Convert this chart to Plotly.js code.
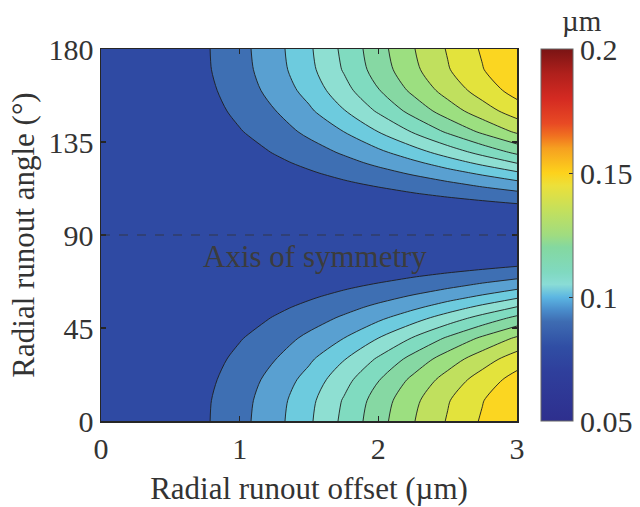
<!DOCTYPE html>
<html>
<head>
<meta charset="utf-8">
<script src="https://cdn.plot.ly/plotly-3.0.1.min.js"></script>
<style>html,body{margin:0;padding:0;background:#fff;}#chart{width:640px;height:507px;}</style>
</head>
<body>
<div id="chart"></div>
<script>
// Radial runout offset (µm)
const offsets = [0, 0.25, 0.5, 0.75, 1.0, 1.25, 1.5, 1.75, 2.0, 2.25, 2.5, 2.75, 3.0];
// Radial runout angle (°)
const angles = [0, 10, 20, 30, 40, 50, 55, 60, 65, 70, 75, 80, 90, 100, 105, 110, 115, 120, 125, 130, 140, 150, 160, 170, 180];
// Error (µm), one row per angle
const zAt0   = [0.0750,0.0750,0.0751,0.0791,0.0852,0.0922,0.1013,0.1117,0.1221,0.1320,0.1406,0.1484,0.1560];
const zAt10  = [0.0750,0.0750,0.0751,0.0789,0.0848,0.0916,0.1004,0.1106,0.1208,0.1306,0.1394,0.1471,0.1546];
const zAt20  = [0.0750,0.0750,0.0751,0.0780,0.0837,0.0899,0.0977,0.1073,0.1171,0.1267,0.1355,0.1433,0.1505];
const zAt30  = [0.0750,0.0750,0.0751,0.0767,0.0819,0.0872,0.0937,0.1020,0.1110,0.1200,0.1287,0.1366,0.1437];
const zAt40  = [0.0750,0.0750,0.0750,0.0752,0.0795,0.0841,0.0891,0.0950,0.1026,0.1106,0.1186,0.1264,0.1337];
const zAt50  = [0.0750,0.0750,0.0750,0.0751,0.0765,0.0804,0.0843,0.0884,0.0933,0.0992,0.1058,0.1124,0.1191];
const zAt55  = [0.0750,0.0750,0.0750,0.0750,0.0754,0.0783,0.0818,0.0853,0.0891,0.0935,0.0987,0.1045,0.1105];
const zAt60  = [0.0750,0.0750,0.0750,0.0750,0.0751,0.0761,0.0791,0.0822,0.0852,0.0884,0.0922,0.0964,0.1013];
const zAt65  = [0.0750,0.0750,0.0750,0.0750,0.0750,0.0751,0.0763,0.0789,0.0814,0.0840,0.0865,0.0895,0.0928];
const zAt70  = [0.0750,0.0750,0.0750,0.0750,0.0750,0.0750,0.0751,0.0753,0.0775,0.0796,0.0817,0.0837,0.0858];
const zAt75  = [0.0750,0.0750,0.0750,0.0750,0.0750,0.0750,0.0750,0.0750,0.0751,0.0752,0.0766,0.0782,0.0798];
const zAt80  = [0.0750,0.0750,0.0750,0.0750,0.0750,0.0750,0.0750,0.0750,0.0750,0.0750,0.0751,0.0751,0.0752];
const zAt90  = [0.0750,0.0750,0.0750,0.0750,0.0750,0.0750,0.0750,0.0750,0.0750,0.0750,0.0750,0.0750,0.0750];
const zAt100 = [0.0750,0.0750,0.0750,0.0750,0.0750,0.0750,0.0750,0.0750,0.0750,0.0750,0.0751,0.0751,0.0752];
const zAt105 = [0.0750,0.0750,0.0750,0.0750,0.0750,0.0750,0.0750,0.0750,0.0751,0.0752,0.0766,0.0782,0.0798];
const zAt110 = [0.0750,0.0750,0.0750,0.0750,0.0750,0.0750,0.0751,0.0753,0.0775,0.0796,0.0817,0.0837,0.0858];
const zAt115 = [0.0750,0.0750,0.0750,0.0750,0.0750,0.0751,0.0763,0.0789,0.0814,0.0840,0.0865,0.0895,0.0928];
const zAt120 = [0.0750,0.0750,0.0750,0.0750,0.0751,0.0761,0.0791,0.0822,0.0852,0.0884,0.0922,0.0964,0.1013];
const zAt125 = [0.0750,0.0750,0.0750,0.0750,0.0754,0.0783,0.0818,0.0853,0.0891,0.0935,0.0987,0.1045,0.1105];
const zAt130 = [0.0750,0.0750,0.0750,0.0751,0.0765,0.0804,0.0843,0.0884,0.0933,0.0992,0.1058,0.1124,0.1191];
const zAt140 = [0.0750,0.0750,0.0750,0.0752,0.0795,0.0841,0.0891,0.0950,0.1026,0.1106,0.1186,0.1264,0.1337];
const zAt150 = [0.0750,0.0750,0.0751,0.0767,0.0819,0.0872,0.0937,0.1020,0.1110,0.1200,0.1287,0.1366,0.1437];
const zAt160 = [0.0750,0.0750,0.0751,0.0780,0.0837,0.0899,0.0977,0.1073,0.1171,0.1267,0.1355,0.1433,0.1505];
const zAt170 = [0.0750,0.0750,0.0751,0.0789,0.0848,0.0916,0.1004,0.1106,0.1208,0.1306,0.1394,0.1471,0.1546];
const zAt180 = [0.0750,0.0750,0.0751,0.0791,0.0852,0.0922,0.1013,0.1117,0.1221,0.1320,0.1406,0.1484,0.1560];

const xTicks = [0, 1, 2, 3];
const yTicks = [0, 45, 90, 135, 180];
const cbTicks = [0.05, 0.1, 0.15, 0.2];
const cbTickText = ['0.05', '0.1', '0.15', '0.2'];
const symmetryAngle = 90;

const zGrid = [zAt0, zAt10, zAt20, zAt30, zAt40, zAt50, zAt55, zAt60, zAt65, zAt70, zAt75, zAt80, zAt90,
  zAt100, zAt105, zAt110, zAt115, zAt120, zAt125, zAt130, zAt140, zAt150, zAt160, zAt170, zAt180];

const FONT = 'Liberation Serif, Times New Roman, serif';
const TXT = '#333333';

const bandColors = ['#2f4aa3','#3e6fb3','#59a0d1','#6dcbde','#8edfd2','#80dbc0','#86d8a3','#9cdf80','#c0e05e','#e3e33c','#fbd621'];
const bandScale = bandColors.map((c, i) => [i / (bandColors.length - 1), c]);

const barScale = [
  [0.000, '#2e2f8e'], [0.133, '#2f3f9c'], [0.200, '#304ea4'], [0.267, '#3e6cb2'],
  [0.300, '#4a8ecc'], [0.333, '#5cb6e2'], [0.367, '#8adcd6'], [0.400, '#80d9c0'],
  [0.467, '#84d8a0'], [0.500, '#a0dc80'], [0.567, '#c4e05c'], [0.633, '#ece03a'],
  [0.667, '#fdd21c'], [0.733, '#f6a020'], [0.767, '#f07020'], [0.800, '#e84a24'],
  [0.867, '#d42a22'], [0.933, '#b0201c'], [1.000, '#7a1414']
];

const traces = [
  {
    type: 'heatmap', x: offsets, y: angles, z: zGrid,
    zmin: 0.05, zmax: 0.2, colorscale: barScale, hoverinfo: 'skip',
    showscale: true,
    colorbar: {
      x: 1.0577, xanchor: 'left', xpad: 0, y: 0.5, yanchor: 'middle', ypad: 0,
      len: 1, lenmode: 'fraction', thickness: 32, thicknessmode: 'pixels',
      outlinewidth: 1, outlinecolor: '#666',
      ticks: 'inside', ticklen: 4, tickcolor: '#333', tickwidth: 1,
      tickvals: cbTicks, ticktext: cbTickText,
      tickfont: {family: FONT, size: 30, color: TXT}
    }
  },
  {
    type: 'contour', x: offsets, y: angles, z: zGrid,
    autocontour: false,
    contours: {start: 0.08, end: 0.1475, size: 0.0075, coloring: 'fill', showlines: true},
    line: {color: '#1e1e1e', width: 0.9, smoothing: 0.8},
    colorscale: bandScale, showscale: false, hoverinfo: 'skip'
  }
];

const layout = {
  width: 640, height: 507,
  margin: {l: 101, r: 123, t: 49, b: 86, autoexpand: false},
  paper_bgcolor: '#fff', plot_bgcolor: '#fff',
  showlegend: false,
  font: {family: FONT, size: 30, color: TXT},
  xaxis: {
    range: [0, 3], tickvals: xTicks, ticktext: xTicks.map(String),
    ticks: 'inside', ticklen: 5, tickwidth: 1.2, tickcolor: '#262626',
    showline: true, linecolor: '#262626', linewidth: 1.5, mirror: 'ticks',
    showgrid: false, zeroline: false,
    tickfont: {family: FONT, size: 30, color: TXT},
    title: {text: 'Radial runout offset (µm)', font: {family: FONT, size: 31, color: TXT}, standoff: 14}
  },
  yaxis: {
    range: [0, 180], tickvals: yTicks, ticktext: yTicks.map(String),
    ticks: 'inside', ticklen: 5, tickwidth: 1.2, tickcolor: '#262626',
    showline: true, linecolor: '#262626', linewidth: 1.5, mirror: 'ticks',
    showgrid: false, zeroline: false,
    tickfont: {family: FONT, size: 30, color: TXT},
    title: {text: 'Radial runout angle (°)', font: {family: FONT, size: 31, color: TXT}, standoff: 4}
  },
  shapes: [{
    type: 'line', xref: 'x', yref: 'y',
    x0: offsets[0], x1: offsets[offsets.length - 1], y0: symmetryAngle, y1: symmetryAngle,
    line: {color: '#333', width: 0.8, dash: 'dash'}
  }],
  annotations: [
    {text: 'Axis of symmetry', xref: 'x', yref: 'y', x: 1.54, y: 79.5,
     showarrow: false, xanchor: 'center', yanchor: 'middle',
     font: {family: FONT, size: 31, color: '#3c3c3c'}},
    {text: 'µm', xref: 'paper', yref: 'paper', x: 1.156, y: 1.075,
     showarrow: false, xanchor: 'center', yanchor: 'middle',
     font: {family: FONT, size: 29, color: TXT}}
  ]
};

Plotly.newPlot('chart', traces, layout, {displayModeBar: false, staticPlot: true});
</script>
</body>
</html>
